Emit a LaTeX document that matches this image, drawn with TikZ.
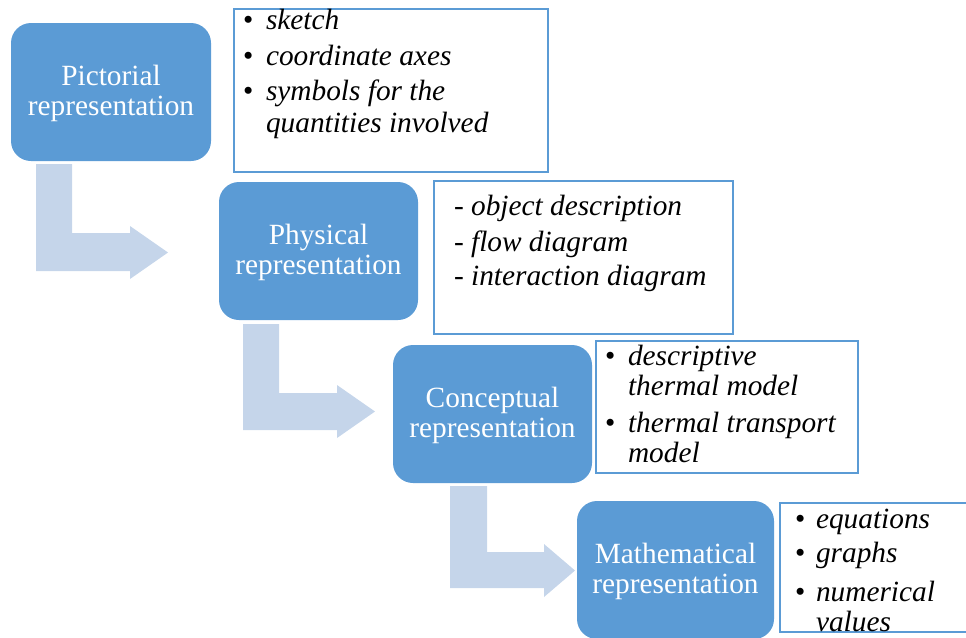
\documentclass[tikz,border=0pt]{standalone}
\usepackage{fontspec}
\setmainfont{Liberation Serif}
\definecolor{boxblue}{HTML}{5B9BD5}
\definecolor{arrowblue}{HTML}{C5D5EA}
\begin{document}
\begin{tikzpicture}[x=0.75pt,y=-0.75pt,
  bluebox/.style={fill=boxblue,draw=none,rounded corners=15pt,inner sep=0pt,outer sep=0pt},
  listbox/.style={draw=boxblue,line width=1.5pt,fill=white},
  boxtext/.style={anchor=base,inner sep=0pt,outer sep=0pt,text=white,font=\fontsize{22}{26}\selectfont},
  itemtext/.style={anchor=base west,inner sep=0pt,outer sep=0pt,font=\fontsize{22}{26}\selectfont\itshape},
  bullettext/.style={anchor=base west,inner sep=0pt,outer sep=0pt,font=\fontsize{22}{26}\selectfont},
  bentarrow/.style={fill=arrowblue,draw=none}]
\useasboundingbox (0,0) rectangle (966,637);
\clip (0,0) rectangle (966,637);
% bent arrows
\fill[bentarrow] (36,164) -- (72,164) -- (72,233) -- (130,233) -- (130,226) -- (168,252.5) -- (130,279) -- (130,271) -- (36,271) -- cycle;
\fill[bentarrow] (243,324) -- (279,324) -- (279,393) -- (337,393) -- (337,385) -- (375,411.5) -- (337,438) -- (337,430) -- (243,430) -- cycle;
\fill[bentarrow] (450,486) -- (487,486) -- (487,552) -- (544,552) -- (544,544) -- (575,570.5) -- (544,597) -- (544,588) -- (450,588) -- cycle;
% blue boxes
\node[bluebox,minimum width=150pt,minimum height=103.5pt] (b1) at (111,92) {};
\node[bluebox,minimum width=149.25pt,minimum height=103.5pt] (b2) at (318.5,251) {};
\node[bluebox,minimum width=149.25pt,minimum height=103.5pt] (b3) at (492.5,414) {};
\node[bluebox,minimum width=147.75pt,minimum height=103.5pt] (b4) at (675.5,570) {};
\node[boxtext] (b1a) at (111,85) {Pictorial};
\node[boxtext] (b1b) at (111,115) {representation};
\node[boxtext] (b2a) at (318.5,244) {Physical};
\node[boxtext] (b2b) at (318.5,274) {representation};
\node[boxtext] (b3a) at (492.5,407) {Conceptual};
\node[boxtext] (b3b) at (492.5,437) {representation};
\node[boxtext] (b4a) at (675.5,563) {Mathematical};
\node[boxtext] (b4b) at (675.5,593) {representation};
% list boxes
\draw[listbox] (234,9) rectangle (548,172);
\draw[listbox] (434,181) rectangle (733,334);
\draw[listbox] (596,341) rectangle (858,473);
\draw[listbox] (780,503) rectangle (985,632);
% list 1
\node[bullettext] (l1p1) at (243,29) {•};
\node[itemtext] (l1t1) at (266,29) {sketch};
\node[bullettext] (l1p2) at (243,65) {•};
\node[itemtext] (l1t2) at (266,65) {coordinate axes};
\node[bullettext] (l1p3) at (243,100) {•};
\node[itemtext] (l1t3) at (266,100) {symbols for the};
\node[itemtext] (l1t4) at (266,132) {quantities involved};
% list 2
\node[itemtext] (l2t1) at (454,215) {- object description};
\node[itemtext] (l2t2) at (454,251) {- flow diagram};
\node[itemtext] (l2t3) at (454,285) {- interaction diagram};
% list 3
\node[bullettext] (l3p1) at (605,365) {•};
\node[itemtext] (l3t1) at (628,365) {descriptive};
\node[itemtext] (l3t2) at (628,395) {thermal model};
\node[bullettext] (l3p2) at (605,432) {•};
\node[itemtext] (l3t3) at (628,432) {thermal transport};
\node[itemtext] (l3t4) at (628,462) {model};
% list 4
\node[bullettext] (l4p1) at (795,528) {•};
\node[itemtext] (l4t1) at (816,528) {equations};
\node[bullettext] (l4p2) at (795,562) {•};
\node[itemtext] (l4t2) at (816,562) {graphs};
\node[bullettext] (l4p3) at (795,601) {•};
\node[itemtext] (l4t3) at (816,601) {numerical};
\node[itemtext] (l4t4) at (816,631) {values};
\end{tikzpicture}
\end{document}
